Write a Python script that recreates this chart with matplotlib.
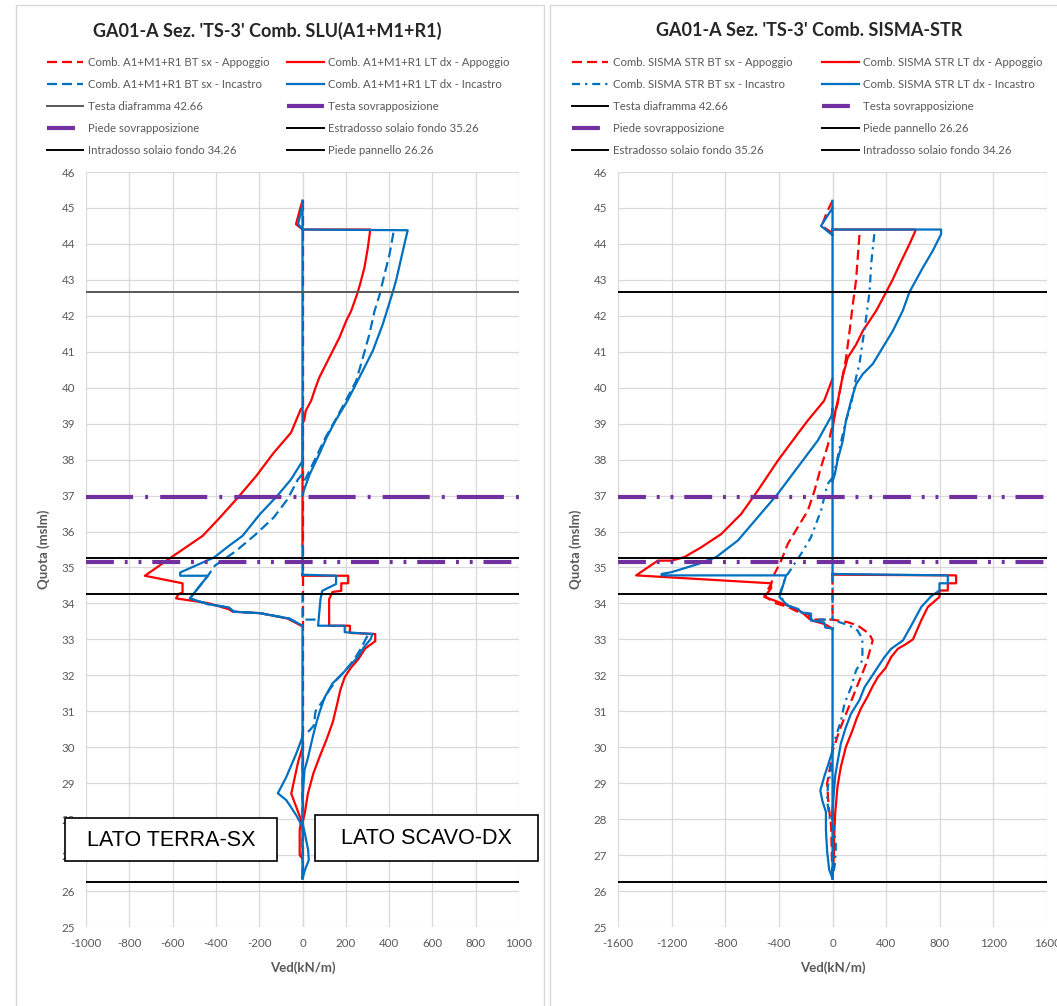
import numpy as np
import matplotlib
matplotlib.use('Agg')
import matplotlib.pyplot as plt
from matplotlib.patches import Rectangle

plt.rcParams['font.family'] = ['Lato', 'DejaVu Sans']
plt.rcParams['axes.unicode_minus'] = False

W, H = 1057, 1006

# Reference levels (m slm)
lev_testa_diaframma = 42.66
lev_testa_sovr = 36.96
lev_piede_sovr = 35.16
lev_estradosso = 35.26
lev_intradosso = 34.26
lev_piede_pannello = 26.26

# ---- Comb. SLU(A1+M1+R1): points (Ved kN/m, quota m slm), None = break
slu_bt_app = [(0, 45.2), (0, 26.35)]
slu_lt_app = [(0, 45.2), (-10, 45.0), (-30, 44.55), (0, 44.4), (313, 44.4), (302, 43.9), (286, 43.34),
              (266, 42.88), (251, 42.58), (225, 42.14), (202, 41.86), (171, 41.4), (140, 41.03),
              (109, 40.66), (78, 40.29), (60, 40.0), (40, 39.64), (15, 39.36), (8, 39.1), (0, 39.0),
              (0, 35.6), None,
              (0, 39.45), (-8, 39.4), (-53, 38.75), (-133, 38.19), (-213, 37.55), (-296, 36.96),
              (-389, 36.34), (-461, 35.88), (-597, 35.32), (-728, 34.77), (-554, 34.56), (-554, 34.31),
              (-573, 34.26), (-584, 34.14), (-437, 34.01), (-341, 33.84), (-322, 33.77), (-197, 33.73),
              (-69, 33.58), (0, 33.36), None,
              (0, 34.77), (211, 34.77), (211, 34.56), (179, 34.56), (179, 34.35), (139, 34.32),
              (123, 34.12), (123, 33.38), (219, 33.38), (219, 33.18), (336, 33.15), (336, 32.95),
              (290, 32.75), (258, 32.45), (222, 32.2), (195, 31.95), (175, 31.6), (160, 31.2),
              (140, 30.7), (110, 30.2), (80, 29.75), (50, 29.27), (25, 28.71), (10, 28.15), (0, 27.9), None,
              (0, 30.0), (-20, 29.6), (-45, 28.9), (-52, 28.71), (-29, 28.34), (-6, 27.97), (-13, 27.7),
              (-13, 27.0), (0, 26.9)]
slu_bt_inc = [(420, 44.31), (402, 43.71), (379, 43.16), (356, 42.58), (333, 42.14), (309, 41.49),
              (279, 40.84), (248, 40.19), (200, 39.64), (150, 39.08), (105, 38.6), (65, 38.1), (25, 37.6),
              (0, 37.3), None,
              (0, 37.6), (-21, 37.45), (-69, 36.9), (-133, 36.39), (-220, 35.9), (-309, 35.45),
              (-405, 35.05), (-437, 34.77), (-520, 34.14), (-437, 33.98), (-341, 33.89), (-317, 33.77),
              (-197, 33.73), (-61, 33.58), (0, 33.38), None,
              (0, 34.3), (0, 33.55), (70, 33.55), None,
              (300, 33.1), (270, 32.75), (240, 32.45), (200, 32.15), (160, 31.9), (125, 31.6), (95, 31.3),
              (60, 31.0), (52, 30.6), (30, 30.45), (0, 30.4), (0, 26.35)]
slu_lt_inc = [(0, 45.2), (0, 37.8), None, (0, 35.6), (0, 34.8), None, (0, 33.38), (0, 26.35), None,
              (0, 45.1), (-20, 44.55), (0, 44.4), (486, 44.38), (471, 44.0), (452, 43.5), (433, 43.0),
              (417, 42.66), (371, 41.77), (325, 41.03), (263, 40.29), (206, 39.62), (152, 39.08),
              (110, 38.6), (78, 38.16), (34, 37.6), (6, 37.14), (0, 37.0), None,
              (0, 37.96), (-53, 37.45), (-117, 36.99), (-197, 36.48), (-277, 35.88), (-340, 35.6),
              (-408, 35.28), (-565, 34.86), (-565, 34.77), (-437, 34.77), (-520, 34.14), (-437, 33.98),
              (-341, 33.89), (-317, 33.77), (-197, 33.73), (-61, 33.58), (0, 33.38), None,
              (0, 34.8), (155, 34.77), (155, 34.54), (91, 34.35), (83, 34.12), (72, 33.38), (195, 33.38),
              (195, 33.2), (323, 33.15), (314, 33.0), (283, 32.78), (255, 32.5), (210, 32.22),
              (175, 31.98), (139, 31.78), (102, 31.38), (80, 31.0), (65, 30.7), (52, 30.4), (40, 30.1),
              (25, 29.7), (9, 29.36), (5, 29.0), (0, 28.6), None,
              (0, 30.29), (-29, 29.82), (-75, 29.17), (-106, 28.81), (-114, 28.72), (-75, 28.53),
              (-55, 28.35), (-29, 28.11), (-10, 27.9), (0, 27.78), None,
              (0, 27.9), (11, 27.6), (26, 27.14), (29, 26.86), (12, 26.6), (0, 26.35)]

# ---- Comb. SISMA-STR
sis_bt_app = [(0, 45.2), (-40, 44.9), (-80, 44.5), (0, 44.3), None,
              (201, 44.25), (176, 43.0), (151, 42.3), (125, 41.5), (100, 40.8), (70, 40.2), (40, 39.6),
              (10, 39.1), (0, 38.95), (-37, 38.37), (-86, 37.79), (-134, 37.14), (-184, 36.58),
              (-259, 36.12), (-333, 35.66), (-383, 35.19), (-433, 34.82), (-458, 34.55), (-508, 34.2),
              (-420, 34.0), (-330, 33.9), (-250, 33.75), (-180, 33.7), (-160, 33.55), (0, 33.55),
              (112, 33.48), (186, 33.39), (273, 33.16), (300, 32.97), (251, 32.32), (201, 31.86),
              (152, 31.4), (102, 30.94), (52, 30.47), (12, 30.01), (0, 29.9), (-15, 29.5), (-40, 29.0),
              (-30, 28.4), (-10, 27.8), (-5, 27.0), (0, 26.35), None,
              (0, 34.8), (0, 33.55)]
sis_lt_app = [(0, 44.4), (618, 44.4), (618, 44.36), (575, 44.0), (510, 43.5), (448, 43.0), (400, 42.66),
              (326, 42.14), (226, 41.58), (176, 41.2), (114, 40.84), (75, 40.3), (40, 39.64), (12, 39.2),
              (0, 38.8), None,
              (0, 40.25), (-62, 39.64), (-186, 39.08), (-259, 38.72), (-408, 37.97), (-557, 37.14),
              (-681, 36.49), (-830, 35.93), (-980, 35.56), (-1104, 35.29), (-1200, 35.19), (-1303, 35.19),
              (-1465, 34.78), (-458, 34.56), (-458, 34.42), (-508, 34.18), (-433, 34.08), (-333, 33.94),
              (-234, 33.77), (-159, 33.53), (-62, 33.43), (0, 33.3), None,
              (0, 34.8), (922, 34.78), (922, 34.56), (860, 34.56), (860, 34.36), (798, 34.36),
              (798, 34.18), (711, 33.9), (662, 33.53), (600, 33.0), (540, 32.85), (488, 32.74),
              (438, 32.51), (395, 32.2), (338, 31.95), (300, 31.7), (260, 31.4), (215, 31.1), (180, 30.8),
              (149, 30.47), (100, 30.01), (62, 29.45), (37, 28.9), (20, 28.16), (12, 27.5), (10, 27.0),
              (5, 26.6), (0, 26.35)]
sis_bt_inc = [(312, 44.27), (290, 43.5), (276, 42.66), (251, 41.95), (201, 40.66), (176, 40.29),
              (139, 39.54), (100, 39.08), (70, 38.6), (35, 38.0), (10, 37.6), (0, 37.4), None,
              (0, 37.5), (-37, 37.32), (-86, 36.58), (-161, 35.84), (-234, 35.38), (-284, 35.1),
              (-333, 34.82), (-346, 34.78), (-396, 34.22), (-334, 33.94), (-259, 33.85), (-234, 33.75),
              (-160, 33.71), (-160, 33.55), (0, 33.55), (50, 33.48), (124, 33.39), (186, 33.25),
              (223, 33.02), (223, 32.42), (176, 32.14), (139, 31.67), (89, 31.21), (64, 30.75),
              (25, 30.29), (0, 30.0), (-10, 29.4), (-35, 28.9), (-40, 28.5), (-20, 28.0), (10, 27.8),
              (25, 27.3), (20, 26.8), (0, 26.35), None,
              (0, 34.8), (0, 33.55)]
sis_lt_inc = [(0, 45.2), (0, 34.8), None, (0, 33.3), (0, 26.35), None,
              (0, 45.0), (-86, 44.5), (-20, 44.3), (0, 44.25), None,
              (0, 44.4), (810, 44.4), (810, 44.27), (748, 43.81), (674, 43.34), (599, 42.83), (574, 42.66),
              (524, 42.14), (450, 41.58), (375, 41.12), (300, 40.66), (226, 40.38), (176, 40.1),
              (139, 39.64), (100, 39.08), (77, 38.53), (37, 37.97), (18, 37.6), (0, 37.4), None,
              (0, 39.4), (-7, 39.22), (-110, 38.53), (-259, 37.79), (-408, 37.05), (-557, 36.4),
              (-706, 35.75), (-867, 35.29), (-1000, 35.1), (-1200, 34.87), (-1275, 34.82), (-1275, 34.78),
              (-346, 34.78), (-396, 34.18), (-334, 33.94), (-259, 33.85), (-234, 33.75), (-160, 33.71),
              (-160, 33.53), (-62, 33.47), (-54, 33.33), (0, 33.3), None,
              (0, 34.82), (860, 34.78), (860, 34.56), (798, 34.56), (798, 34.36), (736, 34.2), (662, 33.9),
              (590, 33.4), (525, 32.97), (438, 32.74), (388, 32.51), (338, 32.23), (289, 31.95),
              (239, 31.67), (201, 31.31), (139, 30.94), (100, 30.56), (62, 30.1), (40, 29.64), (20, 29.2),
              (5, 28.5), (0, 28.0), None,
              (0, 29.9), (-25, 29.6), (-60, 29.2), (-91, 28.8), (-75, 28.5), (-49, 28.2), (-49, 27.7),
              (-40, 27.1), (-25, 26.6), (0, 26.35)]

RED = '#FF0000'
BLUE = '#0070C0'
PURPLE = '#7030A0'
TXT = '#595959'
GRID = '#D9D9D9'


def split(pts):
    v = np.array([np.nan if p is None else p[0] for p in pts], dtype=float)
    q = np.array([np.nan if p is None else p[1] for p in pts], dtype=float)
    return v, q


def fx(x):
    return x / W


def fy(y):
    return 1 - y / H


fig = plt.figure(figsize=(W / 100, H / 100), dpi=100)

# chart area frames
fig.add_artist(Rectangle((fx(15.5), fy(1010)), fx(528), 1005 / H, transform=fig.transFigure,
                         fill=False, edgecolor=GRID, lw=1))
fig.add_artist(Rectangle((fx(549.5), fy(1010)), fx(530), 1005 / H, transform=fig.transFigure,
                         fill=False, edgecolor=GRID, lw=1))


def panel(left_px, right_px, xmax, xstep, series, names, diaf_color, sovr_dashes,
          title, title_x, leg_x, col1, col2, colspace):
    ax = fig.add_axes([fx(left_px), fy(927), fx(right_px - left_px), (927 - 172) / H])
    handles = {}
    for key, pts, color, dashes in series:
        v, q = split(pts)
        line, = ax.plot(v, q, color=color, lw=1.6)
        if dashes:
            line.set_dashes(dashes)
        handles[key] = line
    handles['diaf'] = ax.axhline(lev_testa_diaframma, color=diaf_color, lw=1.4)
    handles['tsovr'] = ax.axhline(lev_testa_sovr, color=PURPLE, lw=3, dashes=sovr_dashes[0])
    handles['psovr'] = ax.axhline(lev_piede_sovr, color=PURPLE, lw=3, dashes=sovr_dashes[1])
    handles['estr'] = ax.axhline(lev_estradosso, color='black', lw=1.4)
    handles['intr'] = ax.axhline(lev_intradosso, color='black', lw=1.4)
    handles['ppan'] = ax.axhline(lev_piede_pannello, color='black', lw=1.4)
    ax.axvline(0, color='#BFBFBF', lw=0.8, zorder=0.5)

    ax.set_xlim(-xmax, xmax)
    ax.set_ylim(25, 46)
    ax.set_xticks(np.arange(-xmax, xmax + 1, xstep))
    ax.set_yticks(np.arange(25, 47, 1))
    ax.grid(True, color=GRID, lw=0.9)
    ax.set_axisbelow(True)
    for s in ax.spines.values():
        s.set_visible(False)
    ax.tick_params(length=0, labelsize=8.3, labelcolor=TXT, pad=8)
    ax.set_xlabel('Ved(kN/m)', fontsize=9.5, fontweight='bold', color=TXT, labelpad=9)
    ax.set_ylabel('Quota (mslm)', fontsize=9.5, fontweight='bold', color=TXT)
    ax.yaxis.set_label_coords(-0.084, 0.5)

    order = col1 + col2
    ax.legend([handles[k] for k in order], [names[k] for k in order], ncol=2,
              loc='upper left', bbox_to_anchor=(fx(leg_x), fy(56.5)), bbox_transform=fig.transFigure,
              frameon=False, fontsize=8.2, labelcolor=TXT, handlelength=3.2, handletextpad=0.4,
              columnspacing=colspace, labelspacing=0.98, borderpad=0, borderaxespad=0)
    fig.text(fx(title_x), fy(31), title, ha='center', va='center', fontsize=13,
             fontweight='bold', color='#262626')
    return ax


names_slu = {'bt_app': 'Comb. A1+M1+R1 BT sx - Appoggio', 'lt_app': 'Comb. A1+M1+R1 LT dx - Appoggio',
             'bt_inc': 'Comb. A1+M1+R1 BT sx - Incastro', 'lt_inc': 'Comb. A1+M1+R1 LT dx - Incastro',
             'diaf': 'Testa diaframma 42.66', 'tsovr': 'Testa sovrapposizione',
             'psovr': 'Piede sovrapposizione', 'estr': 'Estradosso solaio fondo 35.26',
             'intr': 'Intradosso solaio fondo 34.26', 'ppan': 'Piede pannello 26.26'}
names_sis = dict(names_slu)
for k, lab in [('bt_app', 'Comb. SISMA STR BT sx - Appoggio'), ('lt_app', 'Comb. SISMA STR LT dx - Appoggio'),
               ('bt_inc', 'Comb. SISMA STR BT sx - Incastro'), ('lt_inc', 'Comb. SISMA STR LT dx - Incastro')]:
    names_sis[k] = lab

dash = (4.5, 2.25)
dashdot = (3.6, 2.25, 1.0, 2.25)
ldd = (6.7, 2.6, 0.7, 2.6, 0.7, 2.6)
ld = (11.3, 2.9, 0.7, 2.9)

ax1 = panel(86, 519, 1000, 200,
            [('bt_app', slu_bt_app, RED, dash), ('lt_app', slu_lt_app, RED, None),
             ('bt_inc', slu_bt_inc, BLUE, dash), ('lt_inc', slu_lt_inc, BLUE, None)],
            names_slu, '#595959', (ld, ldd), "GA01-A Sez. 'TS-3' Comb. SLU(A1+M1+R1)", 267, 47,
            ['bt_app', 'bt_inc', 'diaf', 'psovr', 'intr'], ['lt_app', 'lt_inc', 'tsovr', 'estr', 'ppan'], 1.55)

ax2 = panel(618, 1047, 1600, 400,
            [('bt_app', sis_bt_app, RED, dash), ('lt_app', sis_lt_app, RED, None),
             ('bt_inc', sis_bt_inc, BLUE, dashdot), ('lt_inc', sis_lt_inc, BLUE, None)],
            names_sis, 'black', (ldd, ldd), "GA01-A Sez. 'TS-3' Comb. SISMA-STR", 809, 572,
            ['bt_app', 'bt_inc', 'diaf', 'psovr', 'estr'], ['lt_app', 'lt_inc', 'tsovr', 'ppan', 'intr'], 2.6)

# side labels on the SLU panel
for x0, y0, x1, y1, txt in [(65, 818, 277, 861, 'LATO TERRA-SX'), (315, 815, 538, 861, 'LATO SCAVO-DX')]:
    fig.add_artist(Rectangle((fx(x0), fy(y1)), fx(x1 - x0), (y1 - y0) / H, transform=fig.transFigure,
                             facecolor='white', edgecolor='black', lw=1.2, zorder=5))
    fig.text(fx((x0 + x1) / 2), fy((y0 + y1) / 2 + 1), txt, ha='center', va='center', fontsize=15.5,
             family=['Liberation Sans', 'DejaVu Sans'], color='black', zorder=6)

fig.savefig('out.png', dpi=100)
